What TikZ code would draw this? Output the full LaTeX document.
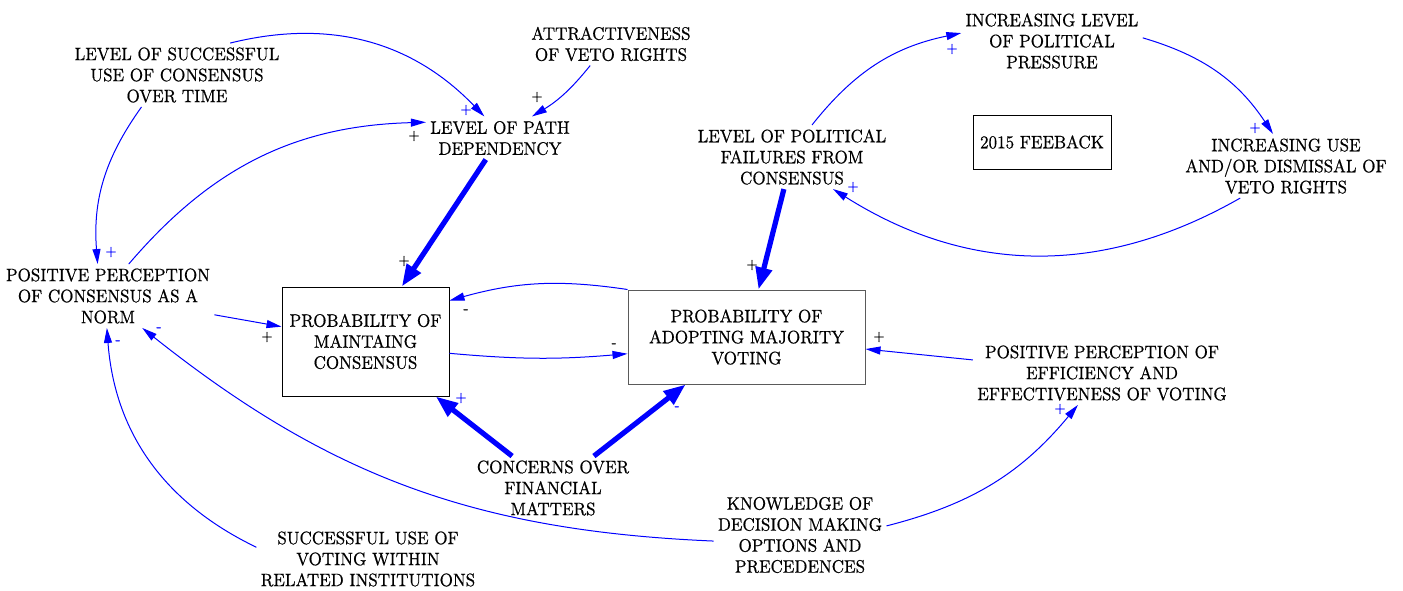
\documentclass[tikz,border=0pt]{standalone}
\usepackage{fontspec}
\setmainfont{Latin Modern Roman}[FakeStretch=0.92, FakeBold=0.6]
\usetikzlibrary{arrows,arrows.meta}

\definecolor{linkblue}{RGB}{0,0,255}
\definecolor{boxgray}{RGB}{90,90,90}

\begin{document}
\begin{tikzpicture}[
x=0.5pt, y=-0.5pt,
var/.style={align=center, inner sep=2pt, font=\fontsize{9}{10.5}\selectfont},
box/.style={var, draw, line width=0.5pt},
sign/.style={inner sep=0pt, font=\fontsize{7}{8}\selectfont},
link/.style={linkblue, line width=0.5pt, -{Triangle[length=7.5pt,width=4pt]}},
strong/.style={linkblue, line width=2.6pt, -{Triangle[length=11pt,width=8pt]}} ]

\useasboundingbox (0,0) rectangle (1403,590);

\node[var](succ) at (177,75) {LEVEL OF SUCCESSFUL\\USE OF CONSENSUS\\OVER TIME};

\node[var](attr) at (611,44) {ATTRACTIVENESS\\OF VETO RIGHTS};

\node[var](path) at (500,138) {LEVEL OF PATH\\DEPENDENCY};

\node[var](norm) at (108,296) {POSITIVE PERCEPTION\\OF CONSENSUS AS A\\NORM};

\node[box, minimum width=83.5pt, minimum height=54.5pt](maint) at (365.5,341.5) {PROBABILITY OF\\MAINTAING\\CONSENSUS};

\node[box, draw=boxgray, minimum width=118.5pt, minimum height=47pt](adopt) at (746.5,337) {PROBABILITY OF\\ADOPTING MAJORITY\\VOTING};

\node[var](fail) at (792,157) {LEVEL OF POLITICAL\\FAILURES FROM\\CONSENSUS};

\node[var](press) at (1052,41) {INCREASING LEVEL\\OF POLITICAL\\PRESSURE};

\node[box, minimum width=69pt, minimum height=27pt](fb) at (1042,142) {2015 FEEBACK};

\node[var](veto) at (1286,166) {INCREASING USE\\AND/OR DISMISSAL OF\\VETO RIGHTS};

\node[var](eff) at (1102,373) {POSITIVE PERCEPTION OF\\EFFICIENCY AND\\EFFECTIVENESS OF VOTING};

\node[var](fin) at (553,488) {CONCERNS OVER\\FINANCIAL\\MATTERS};

\node[var](know) at (800,535) {KNOWLEDGE OF\\DECISION MAKING\\OPTIONS AND\\PRECEDENCES};

\node[var](inst) at (368,559) {SUCCESSFUL USE OF\\VOTING WITHIN\\RELATED INSTITUTIONS};

\draw[link] (succ.31) to[bend left=30] (path.126);

\draw[link] (attr.226) to[bend left=10] (path.34);

\draw[link] (norm.57) to[bend left=24] (path.168);

\draw[link] (succ.222) to[bend right=20] (norm.108);

\draw[strong] (path) -- (maint);

\draw[strong] (fail) -- (adopt);

\draw[link] (fail.58) to[bend left=20] (press.175);

\draw[link] (press.2) to[bend left=20] (veto.112);

\draw[link] (veto.215) to[bend left=31] (fail.322);

\draw[link] (adopt.north west) to[bend right=12] (maint.26);

\draw[link] (maint.-8) to[bend right=5] (adopt.188);

\draw[link] (norm) -- (maint);

\draw[strong] (fin) -- (maint);

\draw[strong] (fin) -- (adopt);

\draw[link] (eff) -- (adopt);

\draw[link] (know.6) to[bend right=18] (eff.233);

\draw[link] (know.184) to[bend left=18] (norm.317);

\draw[link] (inst.174) to[bend left=30] (norm.268);

\node[sign, linkblue](sa) at (466,110) {+};
\node[sign](sb) at (537,97) {+};
\node[sign](sc) at (414,136) {+};
\node[sign, linkblue](sd) at (111,252) {+};
\node[sign](se) at (404,261) {+};
\node[sign](sf) at (752,265) {+};
\node[sign, linkblue](sg) at (952,49) {+};
\node[sign, linkblue](sh) at (1255,128) {+};
\node[sign, linkblue](si) at (853,187) {+};
\node[sign](sj) at (466,311) {-};
\node[sign](sk) at (614,345) {-};
\node[sign](sl) at (267,337) {+};
\node[sign, linkblue](sm) at (461,398) {+};
\node[sign, linkblue](sn) at (677,408) {-};
\node[sign](so) at (879,337) {+};
\node[sign, linkblue](sp) at (1060,409) {+};
\node[sign, linkblue](sq) at (159,329) {-};
\node[sign, linkblue](sr) at (118,342) {-};
\end{tikzpicture}
\end{document}
